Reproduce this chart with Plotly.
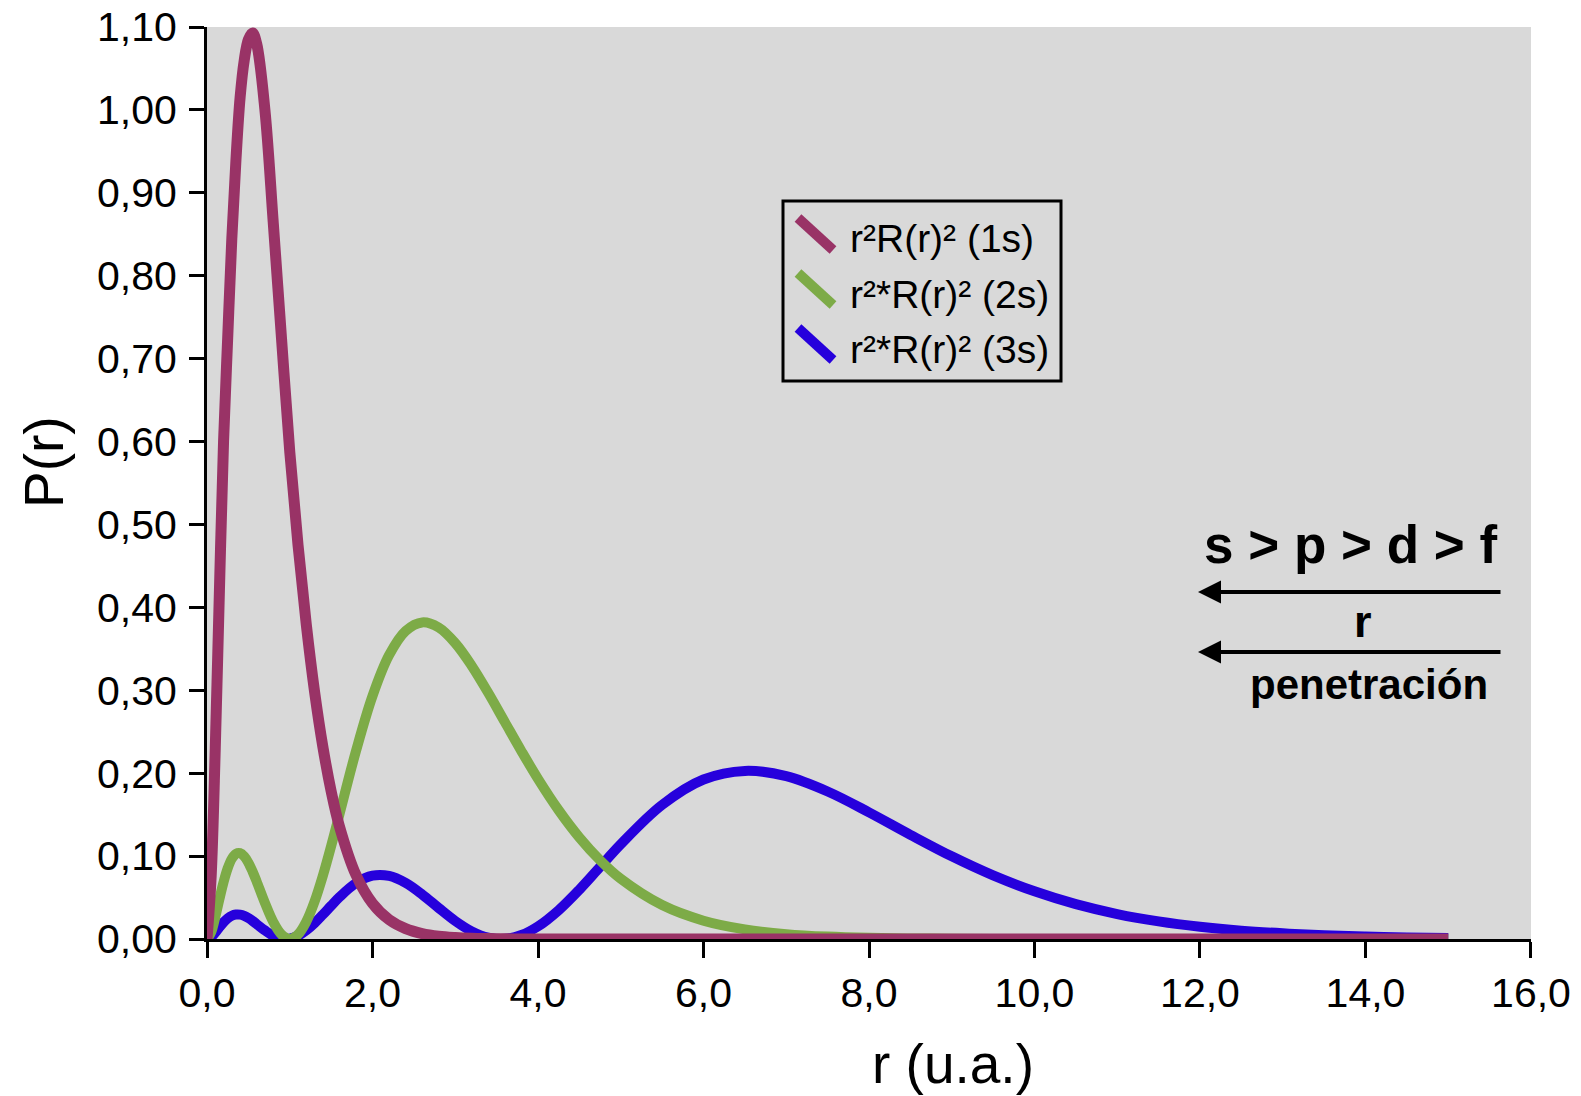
import plotly.graph_objects as go

# ---- data ----
r_values = [0, 0.05, 0.1, 0.15, 0.2, 0.25, 0.3, 0.35, 0.4, 0.45, 0.5, 0.55, 0.6, 0.7, 0.8, 0.9,
            1.0, 1.1, 1.2, 1.3, 1.4, 1.5, 1.6, 1.8, 2.0, 2.2, 2.4, 2.6, 2.8, 3.0, 3.2, 3.4, 3.6, 3.8,
            4.0, 4.25, 4.5, 4.75, 5.0, 5.5, 6.0, 6.5, 7.0, 7.5, 8.0, 8.5, 9.0, 9.5, 10.0, 10.5,
            11.0, 11.5, 12.0, 12.5, 13.0, 13.5, 14.0, 14.5, 15.0]

p_1s = [0, 0.0750, 0.2300, 0.4200, 0.6000, 0.7250, 0.8450, 0.9400, 1.0150, 1.0600, 1.0850, 1.0930,
        1.0800, 1.0000, 0.8650, 0.7250, 0.5880, 0.4754, 0.3792, 0.2983, 0.2319, 0.1785, 0.1361,
        0.0774, 0.0429, 0.0233, 0.0125, 0.0066, 0.0034, 0.0018, 0.0009, 0.0005, 0.0002, 0.0001,
        0, 0, 0, 0, 0, 0, 0, 0, 0, 0, 0, 0, 0, 0, 0, 0, 0, 0, 0, 0, 0, 0, 0, 0, 0]

p_2s = [0, 0.0082, 0.0265, 0.0482, 0.0686, 0.0853, 0.0968, 0.1028, 0.1035, 0.0996, 0.0920, 0.0816,
        0.0694, 0.0435, 0.0207, 0.0054, 0.0, 0.0054, 0.0209, 0.0452, 0.0763, 0.1120, 0.1503,
        0.2266, 0.2931, 0.3423, 0.3716, 0.3819, 0.3757, 0.3569, 0.3294, 0.2967, 0.2616, 0.2266,
        0.1932, 0.1553, 0.1225, 0.0950, 0.0726, 0.0409, 0.0221, 0.0116, 0.0059, 0.0029, 0.0014,
        0.0007, 0.0003, 0.0001, 0.0001, 0, 0, 0, 0, 0, 0, 0, 0, 0, 0]

p_3s = [0, 0.0024, 0.0078, 0.0142, 0.0202, 0.0249, 0.0281, 0.0295, 0.0294, 0.0279, 0.0253, 0.0219,
        0.0180, 0.0103, 0.0039, 0.0005, 0.0004, 0.0039, 0.0104, 0.0191, 0.0294, 0.0401, 0.0505,
        0.0674, 0.0764, 0.0761, 0.0677, 0.0538, 0.0374, 0.0217, 0.0092, 0.0017, 0.0002, 0.0048,
        0.0152, 0.0348, 0.0595, 0.0869, 0.1143, 0.1618, 0.1924, 0.2028, 0.1964, 0.1779, 0.1528,
        0.1257, 0.0997, 0.0767, 0.0575, 0.0420, 0.0301, 0.0212, 0.0147, 0.0100, 0.0068, 0.0045,
        0.0030, 0.0019, 0.0012]

series_names = ["r²R(r)² (1s)", "r²*R(r)² (2s)", "r²*R(r)² (3s)"]
x_ticks = [0, 2, 4, 6, 8, 10, 12, 14, 16]
y_ticks = [0, 0.1, 0.2, 0.3, 0.4, 0.5, 0.6, 0.7, 0.8, 0.9, 1.0, 1.1]

C_1S = "#993366"
C_2S = "#7dab47"
C_3S = "#2600dc"
FONT = "Liberation Sans, Arial, sans-serif"

W, H = 1581, 1096
L, R, T, B = 207, 50, 27, 157
PW, PH = W - L - R, H - T - B


def px(x):
    return (x - L) / PW


def py(y):
    return (H - B - y) / PH


fig = go.Figure()
for name, vals, color, width in [(series_names[2], p_3s, C_3S, 10),
                                 (series_names[1], p_2s, C_2S, 10),
                                 (series_names[0], p_1s, C_1S, 11)]:
    fig.add_trace(go.Scatter(
        x=r_values, y=vals, mode="lines", name=name, showlegend=False,
        cliponaxis=False, hoverinfo="skip",
        line=dict(color=color, width=width, shape="spline", smoothing=1.0),
    ))

axis_common = dict(
    showline=True, linecolor="black", linewidth=3, ticks="outside",
    tickcolor="black", tickwidth=3, showgrid=False, zeroline=False,
    automargin=False,
    tickfont=dict(family=FONT, size=41, color="black"),
)
fig.update_xaxes(range=[0, 16.0001], tickvals=x_ticks, tickformat=".1f", ticklen=16,
                 ticklabelstandoff=0, **axis_common)
fig.update_yaxes(range=[0, 1.1001], tickvals=y_ticks, tickformat=".2f", ticklen=15,
                 ticklabelstandoff=4, **axis_common)

annotations = [
    dict(text="r (u.a.)", x=px(953), y=py(1064), font=dict(size=55)),
    dict(text="P(r)", x=px(44), y=py(462), textangle=-90, font=dict(size=55)),
    dict(text="<b>s > p > d > f</b>", x=px(1350), y=py(545), font=dict(size=53)),
    dict(text="<b>r</b>", x=px(1363), y=py(621), font=dict(size=45)),
    dict(text="<b>penetración</b>", x=px(1369), y=py(684), font=dict(size=42)),
]
for i, (name, yc) in enumerate(zip(series_names, [239, 294, 349])):
    annotations.append(dict(text=name, x=px(848), y=py(yc), xanchor="left",
                            font=dict(size=39)))
for ya in [592, 652]:
    annotations.append(dict(text="", x=px(1198), y=py(ya), ax=304, ay=0,
                            showarrow=True, arrowhead=2, arrowsize=1.15,
                            arrowwidth=4, arrowcolor="black", standoff=0))

for a in annotations:
    a.setdefault("xref", "paper")
    a.setdefault("yref", "paper")
    a.setdefault("showarrow", False)
    a.setdefault("xanchor", "center")
    a.setdefault("yanchor", "middle")
    a["font"] = dict(family=FONT, color="black", **a.get("font", {}))

shapes = [dict(type="rect", xref="paper", yref="paper", x0=px(783), x1=px(1061),
               y0=py(381), y1=py(201), line=dict(color="black", width=3))]
for color, yc in zip([C_1S, C_2S, C_3S], [234, 289, 344]):
    shapes.append(dict(type="line", xref="paper", yref="paper",
                       x0=px(798), y0=py(yc - 16), x1=px(833), y1=py(yc + 16),
                       line=dict(color=color, width=10)))

fig.update_layout(
    width=W, height=H,
    margin=dict(l=L, r=R, t=T, b=B, pad=0, autoexpand=False),
    paper_bgcolor="white", plot_bgcolor="#d9d9d9",
    separators=",.",
    showlegend=False,
    hovermode=False,
    annotations=annotations,
    shapes=shapes,
    font=dict(family=FONT, color="black"),
)

fig.write_html(
    "out.html",
    config={"displayModeBar": False, "staticPlot": True},
    post_script="document.body.style.margin='0';document.documentElement.style.overflow='hidden';",
)
